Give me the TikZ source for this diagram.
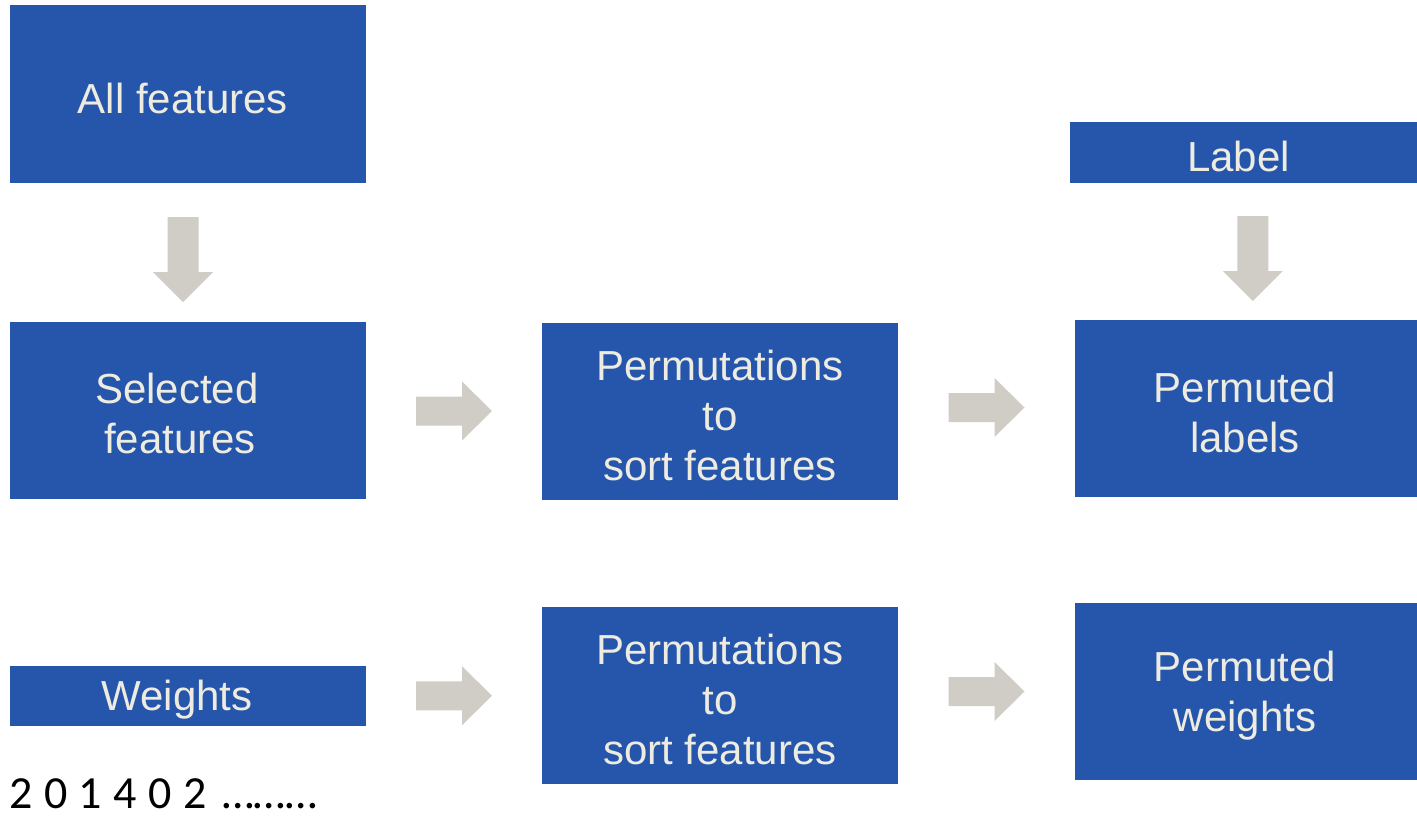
\documentclass[tikz,border=0pt]{standalone}
\usepackage{fontspec}
\setmainfont{Liberation Sans}
\newfontfamily\calib{Carlito}
\usetikzlibrary{calc}
\definecolor{boxblue}{RGB}{37,86,172}
\definecolor{boxtext}{RGB}{238,236,225}
\definecolor{arrowgrey}{RGB}{208,204,198}
\tikzset{
  box/.style={rectangle, fill=boxblue, draw=none, inner sep=0pt},
  boxtxt/.style={inner sep=0pt, align=center, text=boxtext,
    font=\fontsize{42}{50}\selectfont},
  rarrow/.pic={\fill[arrowgrey] (-38,-14.5) -- (8,-14.5) -- (8,-29.5) -- (38,0)
      -- (8,29.5) -- (8,14.5) -- (-38,14.5) -- cycle;},
  darrow/.pic={\fill[arrowgrey] (-15.5,-42.5) -- (15.5,-42.5) -- (15.5,12.5)
      -- (30,12.5) -- (0,42.5) -- (-30,12.5) -- (-15.5,12.5) -- cycle;}
}
\begin{document}
\begin{tikzpicture}[x=1pt,y=-1pt]
\useasboundingbox (0,0) rectangle (1417,816);
% boxes
\node[box, minimum width=356pt, minimum height=178pt] (all) at (188,94) {};
\node[box, minimum width=347pt, minimum height=61pt] (label) at (1243.5,152.5) {};
\node[box, minimum width=356pt, minimum height=177pt] (sel) at (188,410.5) {};
\node[box, minimum width=356pt, minimum height=177pt] (perm1) at (720,411.5) {};
\node[box, minimum width=342pt, minimum height=177pt] (plab) at (1246,408.5) {};
\node[box, minimum width=356pt, minimum height=60pt] (wts) at (188,696) {};
\node[box, minimum width=356pt, minimum height=177pt] (perm2) at (720,695.5) {};
\node[box, minimum width=342pt, minimum height=177pt] (pwts) at (1246,691.5) {};
% box texts
\node[boxtxt] (allT) at ([xshift=-5pt,yshift=-4pt]all.center) {All features};
\node[boxtxt] (labelT) at ([xshift=-5pt,yshift=-4pt]label.center) {Label};
\node[boxtxt] (selT) at ([xshift=-8pt,yshift=-3pt]sel.center) {Selected\hspace*{6pt}\\features};
\node[boxtxt] (perm1T) at ([yshift=-4pt]perm1.center) {Permutations\\to\\sort features};
\node[boxtxt] (plabT) at ([xshift=-1pt,yshift=-4pt]plab.center) {Permuted\\labels};
\node[boxtxt] (wtsT) at ([xshift=-11pt,yshift=-4pt]wts.center) {Weights};
\node[boxtxt] (perm2T) at ([yshift=-4pt]perm2.center) {Permutations\\to\\sort features};
\node[boxtxt] (pwtsT) at ([xshift=-1pt,yshift=-4pt]pwts.center) {Permuted\\weights};
% block arrows between boxes
\pic at ($(all.south)!0.5!(sel.north)+(-5,7)$) {darrow};
\pic at ($(label.south)!0.5!(plab.north)+(8,7)$) {darrow};
\pic at ($(sel.east)!0.5!(perm1.west)$) {rarrow};
\pic at ($(perm1.east)!0.5!(plab.west)+(0,-2.5)$) {rarrow};
\pic at ($(wts.east)!0.5!(perm2.west)$) {rarrow};
\pic at ($(perm2.east)!0.5!(pwts.west)+(0,-2)$) {rarrow};
% sequence below the weights
\node[anchor=base west, inner sep=0pt, font=\calib\fontsize{46}{50}\selectfont] (seq) at (9,808)
  {\spaceskip=0.25em 2 0 1 4 0 2\hspace{0.34em}………};
\end{tikzpicture}
\end{document}
